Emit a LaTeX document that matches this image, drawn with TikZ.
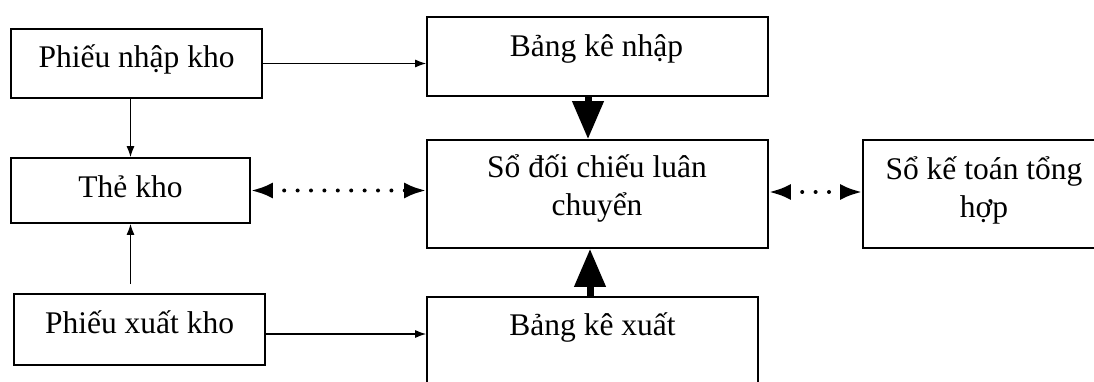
\documentclass[tikz,border=0pt]{standalone}
\usepackage{fontspec}
\setmainfont{Liberation Serif}
\usetikzlibrary{arrows.meta}
\begin{document}
\begin{tikzpicture}[x=1pt,y=-1pt,
  box/.style={draw, line width=1.6pt, inner sep=0pt, rectangle},
  lbl/.style={anchor=base, inner sep=0pt, font=\fontsize{31.5}{37}\selectfont},
  thin/.style={line width=1.4pt, -{Latex[length=11pt,width=8pt]}},
  big/.style={line width=7pt, -{Triangle[length=38pt,width=30pt]}},
  dots/.style={line width=4pt, line cap=round, dash pattern=on 0pt off 13.4pt,
    {Latex[length=22pt,width=16pt]}-{Latex[length=22pt,width=16pt]}}]
\useasboundingbox (0,0) rectangle (1094,382);
\clip (0,0) rectangle (1094,382);
% boxes
\node[box, minimum width=251pt, minimum height=69pt] (pn) at (136.5,63.5) {};
\node[box, minimum width=341pt, minimum height=79pt] (bn) at (597.5,56.5) {};
\node[box, minimum width=239pt, minimum height=65pt] (tk) at (130.5,190.5) {};
\node[box, minimum width=341pt, minimum height=108pt] (sd) at (597.5,194) {};
\node[box, minimum width=242pt, minimum height=108pt] (sk) at (984,194) {};
\node[box, minimum width=251pt, minimum height=71pt] (px) at (139.5,329.5) {};
\node[box, minimum width=331pt, minimum height=103pt] (bx) at (592.5,348.5) {};
% labels
\node[lbl] (tpn) at (136.5,68) {Phiếu nhập kho};
\node[lbl] (tbn) at (596.5,57) {Bảng kê nhập};
\node[lbl] (ttk) at (130.5,197) {Thẻ kho};
\node[lbl] (tsd1) at (597,178) {Sổ đối chiếu luân};
\node[lbl] (tsd2) at (597,215) {chuyển};
\node[lbl] (tsk1) at (984,180) {Sổ kế toán tổng};
\node[lbl] (tsk2) at (984,217) {hợp};
\node[lbl] (tbx) at (592.5,335) {Bảng kê xuất};
\node[lbl] (tpx) at (139.5,333) {Phiếu xuất kho};
% connectors
\draw[thin] (pn.east) -- (pn.east -| bn.west);
\draw[thin] (pn.south -| tk.north) -- (tk.north);
\draw[thin, shorten <=9pt] (px.north -| tk.south) -- (tk.south);
\draw[thin] ([yshift=-4.5pt]px.east) -- ([yshift=-4.5pt]px.east -| bx.west);
\draw[big] ([xshift=-9.5pt]bn.south) -- ([xshift=-9.5pt]sd.north);
\draw[big] ([xshift=-2.5pt]bx.north) -- ([xshift=-2.5pt]bx.north |- sd.south);
\draw[dots] (tk.east) -- (tk.east -| sd.west);
\draw[dots] ([yshift=2pt]sd.east) -- ([yshift=2pt]sk.west);
\end{tikzpicture}
\end{document}
